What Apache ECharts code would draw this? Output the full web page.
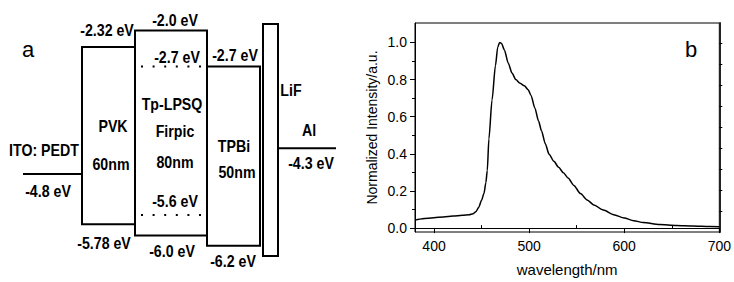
<!DOCTYPE html>
<html>
<head>
<meta charset="utf-8">
<script src="https://cdn.jsdelivr.net/npm/echarts@6/dist/echarts.min.js"></script>
<style>
  html, body { margin: 0; padding: 0; background: #fff; }
  #chart { width: 734px; height: 282px; }
</style>
</head>
<body>
<div id="chart"></div>
<script>
// panel a: device energy levels (eV)
const layerNames = ['PVK', 'Tp-LPSQ', 'TPBi', 'LiF'];
const layerThickness = ['60nm', '80nm', '50nm', ''];
const layerLumo = [-2.32, -2.0, -2.7, -1.87];
const layerHomo = [-5.78, -6.0, -6.2, -6.4];
const electrodeNames = ['ITO: PEDT', 'Al'];
const electrodeLevels = [-4.8, -4.3];
const dopantName = 'Firpic';
const dopantLevels = [-2.7, -5.6];

// panel b: EL spectrum
const wavelength = [380, 388, 400, 410, 420, 430, 437, 441, 444, 447, 450, 452.5, 454.5, 456, 457.7, 461, 464.6, 467, 469, 471, 474, 478, 482, 486, 490, 495, 499, 502, 506, 510, 513, 517, 521, 526, 531, 536, 541, 547, 554, 561, 568, 578, 589, 600, 610, 620, 637, 655, 672, 690, 700];
const intensity = [0.043, 0.051, 0.056, 0.060, 0.065, 0.069, 0.072, 0.077, 0.088, 0.112, 0.150, 0.186, 0.245, 0.310, 0.480, 0.690, 0.876, 0.975, 1.0, 0.995, 0.96, 0.89, 0.835, 0.80, 0.782, 0.767, 0.745, 0.715, 0.647, 0.575, 0.525, 0.455, 0.398, 0.36, 0.328, 0.298, 0.27, 0.23, 0.186, 0.152, 0.125, 0.097, 0.072, 0.054, 0.040, 0.030, 0.019, 0.014, 0.011, 0.008, 0.007];
const xTicks = [400, 500, 600, 700];
const xMinorTicks = [450, 550, 650];
const yTicks = [0, 0.2, 0.4, 0.6, 0.8, 1.0];
const yMinorTicks = [0.1, 0.3, 0.5, 0.7, 0.9];
const rightTicks = [1, 2, 3, 4, 5, 6, 7, 8, 9];

// layout of panel a (x in grid pixels)
const layerCols = [[82, 135], [135, 207], [207, 260], [263, 278]];
const electrodeCols = [[23, 82], [278, 336]];
const dopantCol = [141, 204];

const ev = v => (String(v).includes('.') ? String(v) : v.toFixed(1)) + ' eV';

const textItems = [
  { x: 107, e: layerLumo[0], dy: -17, text: ev(layerLumo[0]) },
  { x: 175, e: layerLumo[1], dy: -10, text: ev(layerLumo[1]) },
  { x: 177, e: dopantLevels[0], dy: -9, text: ev(dopantLevels[0]) },
  { x: 235, e: layerLumo[2], dy: -11, text: ev(layerLumo[2]) },
  { x: 104, e: layerHomo[0], dy: 19, text: ev(layerHomo[0]) },
  { x: 172, e: layerHomo[1], dy: 16, text: ev(layerHomo[1]) },
  { x: 175, e: dopantLevels[1], dy: -14, text: ev(dopantLevels[1]) },
  { x: 233, e: layerHomo[2], dy: 15, text: ev(layerHomo[2]) },
  { x: 48, e: electrodeLevels[0], dy: 17, text: ev(electrodeLevels[0]) },
  { x: 311, e: electrodeLevels[1], dy: 15, text: ev(electrodeLevels[1]) },
  { x: 44, e: electrodeLevels[0], dy: -24, text: electrodeNames[0] },
  { x: 309, e: electrodeLevels[1], dy: -18, text: electrodeNames[1] },
  { x: 113, e: layerLumo[0], dy: 79, text: layerNames[0] },
  { x: 111, e: layerLumo[0], dy: 117, text: layerThickness[0] },
  { x: 172, e: layerLumo[1], dy: 74, text: layerNames[1] },
  { x: 175, e: layerLumo[1], dy: 101, text: dopantName },
  { x: 175, e: layerLumo[1], dy: 132, text: layerThickness[1] },
  { x: 234, e: layerLumo[2], dy: 80, text: layerNames[2] },
  { x: 237, e: layerLumo[2], dy: 106, text: layerThickness[2] },
  { x: 291, e: layerLumo[3], dy: 66, text: layerNames[3] }
];

const BOLD = 'bold 16.5px "Liberation Sans", Arial, sans-serif';
const FONT = '"Liberation Sans", Arial, sans-serif';

const chart = echarts.init(document.getElementById('chart'), null, { renderer: 'svg' });

const hiddenAxis = { show: false, splitLine: { show: false } };

chart.setOption({
  animation: false,
  backgroundColor: '#fff',
  textStyle: { fontFamily: FONT, color: '#000' },
  grid: [
    { left: 0, top: 5, width: 340, height: 256 },
    { left: 415, top: 23, width: 308, height: 214, show: true, borderColor: '#000', borderWidth: 1 }
  ],
  xAxis: [
    { ...hiddenAxis, gridIndex: 0, type: 'value', min: 0, max: 340 },
    {
      gridIndex: 1, type: 'value', min: 380, max: 700,
      name: 'wavelength/nm', nameLocation: 'middle', nameGap: 30,
      nameTextStyle: { fontSize: 15, color: '#000', fontFamily: FONT },
      axisLine: { lineStyle: { color: '#000', width: 1 } },
      axisTick: { customValues: xTicks, length: 5, lineStyle: { color: '#000' } },
      axisLabel: { customValues: xTicks, fontSize: 14, color: '#000', margin: 7, fontFamily: FONT },
      splitLine: { show: false }
    },
    {
      gridIndex: 1, type: 'value', min: 380, max: 700,
      axisLine: { show: false },
      axisTick: { customValues: xMinorTicks, length: 3, lineStyle: { color: '#000' } },
      axisLabel: { show: false },
      splitLine: { show: false }
    }
  ],
  yAxis: [
    { ...hiddenAxis, gridIndex: 0, type: 'value', min: -6.5, max: -1.5 },
    {
      gridIndex: 1, type: 'value', min: -0.021, max: 1.105,
      name: 'Normalized Intensity/a.u.', nameLocation: 'middle', nameGap: 36, nameRotate: 90,
      nameTextStyle: { fontSize: 14, color: '#000', fontFamily: FONT },
      axisLine: { show: true, lineStyle: { color: '#000', width: 1 } },
      axisTick: { show: true, customValues: yTicks, length: 5, lineStyle: { color: '#000' } },
      axisLabel: { customValues: yTicks, fontSize: 14, color: '#000', margin: 8, fontFamily: FONT, formatter: v => v.toFixed(1) },
      splitLine: { show: false }
    },
    {
      gridIndex: 1, type: 'value', min: -0.021, max: 1.105, position: 'left',
      axisLine: { show: false },
      axisTick: { show: true, customValues: yMinorTicks, length: 3, lineStyle: { color: '#000' } },
      axisLabel: { show: false },
      splitLine: { show: false }
    },
    {
      gridIndex: 1, type: 'value', min: 0.03, max: 9.96, position: 'right',
      axisLine: { show: true, lineStyle: { color: '#222', width: 2 } },
      axisTick: { show: true, customValues: rightTicks, length: 3, lineStyle: { color: '#000' } },
      axisLabel: { show: false },
      splitLine: { show: false }
    }
  ],
  graphic: [
    { type: 'text', x: 28, y: 49, style: { text: 'a', font: '22px ' + FONT, fill: '#000', align: 'center', verticalAlign: 'middle' } },
    { type: 'text', x: 691, y: 49, style: { text: 'b', font: '22px ' + FONT, fill: '#000', align: 'center', verticalAlign: 'middle' } }
  ],
  series: [
    {
      type: 'custom', name: 'layers', xAxisIndex: 0, yAxisIndex: 0, silent: true, clip: false,
      data: layerNames.map((n, i) => [layerCols[i][0], layerCols[i][1], layerLumo[i], layerHomo[i]]),
      encode: { x: [0, 1], y: [2, 3] },
      renderItem: (params, api) => {
        const tl = api.coord([api.value(0), api.value(2)]);
        const br = api.coord([api.value(1), api.value(3)]);
        return {
          type: 'rect',
          shape: { x: tl[0], y: tl[1], width: br[0] - tl[0], height: br[1] - tl[1] },
          style: { fill: 'none', stroke: '#000', lineWidth: 2 }
        };
      }
    },
    {
      type: 'custom', name: 'electrodes', xAxisIndex: 0, yAxisIndex: 0, silent: true, clip: false,
      data: electrodeNames.map((n, i) => [electrodeCols[i][0], electrodeCols[i][1], electrodeLevels[i]]),
      encode: { x: [0, 1], y: 2 },
      renderItem: (params, api) => {
        const a = api.coord([api.value(0), api.value(2)]);
        const b = api.coord([api.value(1), api.value(2)]);
        return { type: 'line', shape: { x1: a[0], y1: a[1], x2: b[0], y2: b[1] }, style: { stroke: '#000', lineWidth: 2 } };
      }
    },
    {
      type: 'custom', name: dopantName, xAxisIndex: 0, yAxisIndex: 0, silent: true, clip: false,
      data: dopantLevels.map(v => [dopantCol[0], dopantCol[1], v]),
      encode: { x: [0, 1], y: 2 },
      renderItem: (params, api) => {
        const a = api.coord([api.value(0), api.value(2)]);
        const b = api.coord([api.value(1), api.value(2)]);
        return { type: 'line', shape: { x1: a[0], y1: a[1], x2: b[0], y2: b[1] }, style: { stroke: '#000', lineWidth: 2, lineDash: [2, 9.6] } };
      }
    },
    {
      type: 'custom', name: 'labels', xAxisIndex: 0, yAxisIndex: 0, silent: true, clip: false,
      data: textItems.map(t => [t.x, t.e]),
      renderItem: (params, api) => {
        const t = textItems[params.dataIndex];
        const p = api.coord([t.x, t.e]);
        return {
          type: 'text', x: p[0], y: p[1] + t.dy, scaleX: 0.86,
          style: { text: t.text, font: BOLD, fill: '#000', align: 'center', verticalAlign: 'middle' }
        };
      }
    },
    {
      type: 'line', name: 'EL', xAxisIndex: 1, yAxisIndex: 1,
      data: wavelength.map((w, i) => [w, intensity[i]]),
      showSymbol: false, smooth: 0.25, smoothMonotone: 'x', silent: true,
      lineStyle: { color: '#000', width: 1.5 }
    }
  ]
});
</script>
</body>
</html>
